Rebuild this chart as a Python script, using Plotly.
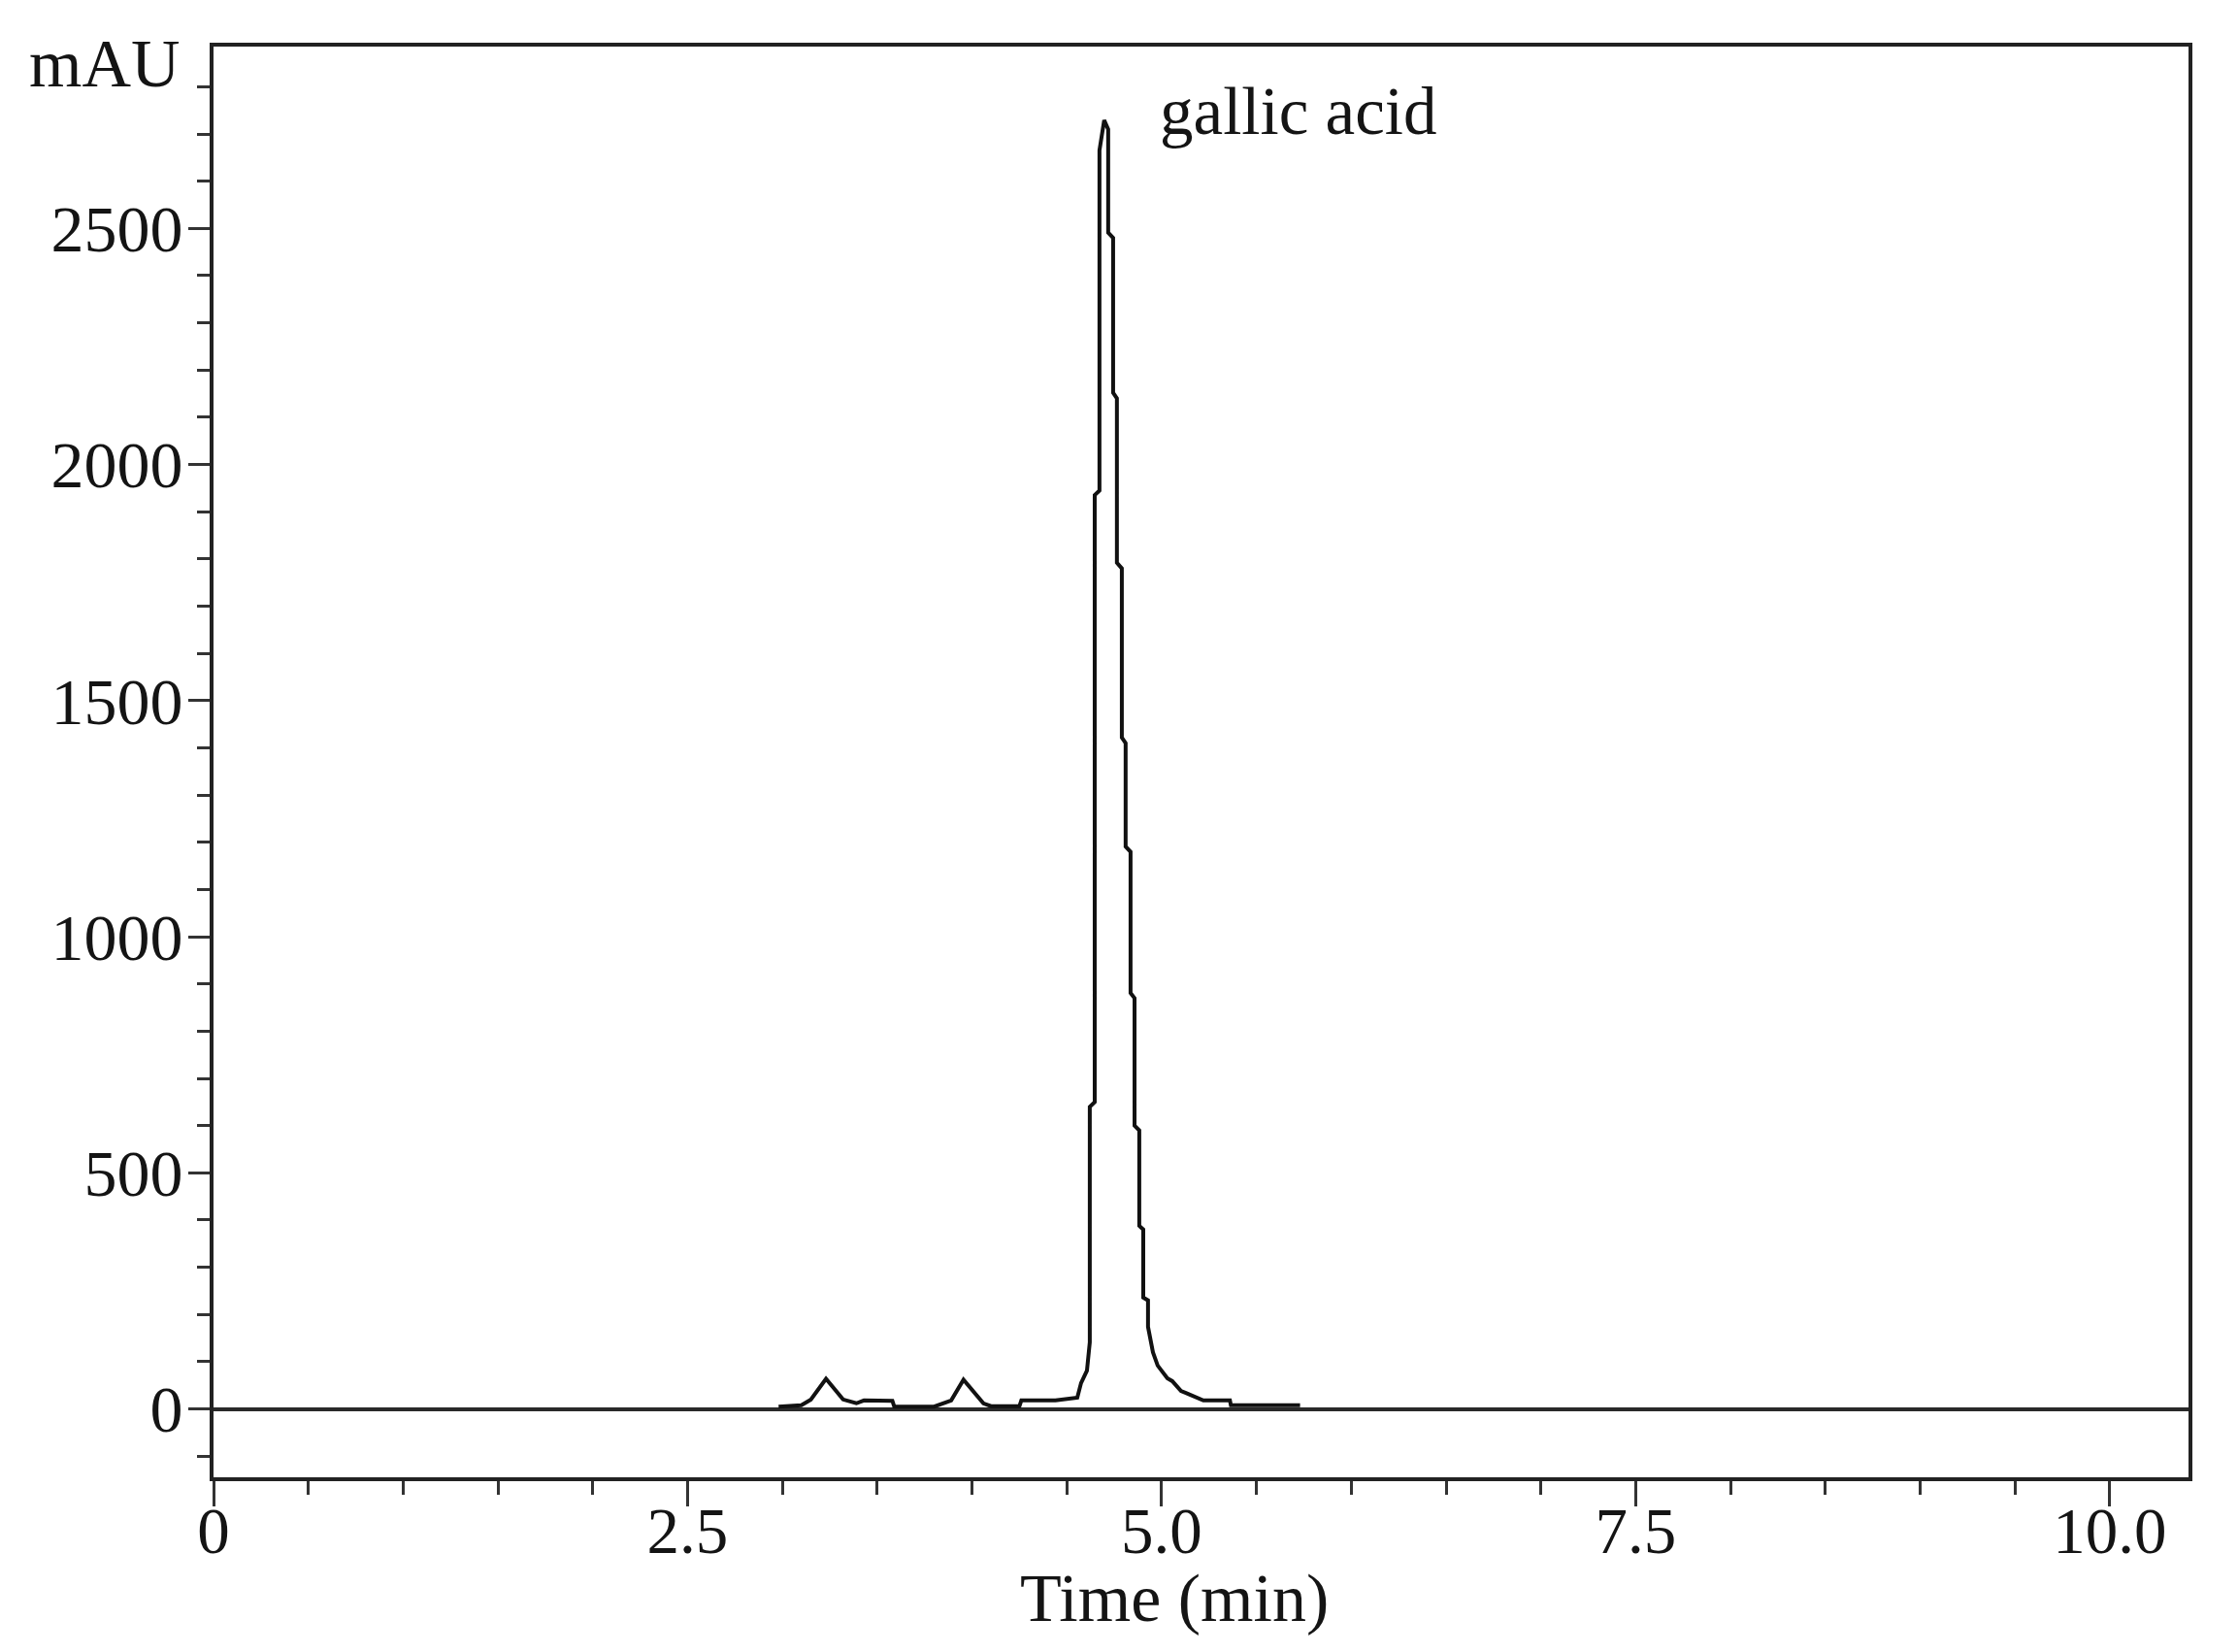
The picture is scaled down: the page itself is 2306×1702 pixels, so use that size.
import plotly.graph_objects as go

# Chromatogram trace (time in min, absorbance in mAU)
time_min = [2.98, 3.10, 3.15, 3.23, 3.32, 3.39, 3.43, 3.58, 3.59, 3.80, 3.89, 3.955,
            4.06, 4.10, 4.25, 4.26, 4.44, 4.54, 4.555, 4.575, 4.606, 4.621, 4.621,
            4.647, 4.647, 4.672, 4.672, 4.697, 4.718, 4.718, 4.744, 4.744, 4.764,
            4.764, 4.790, 4.790, 4.810, 4.810, 4.836, 4.836, 4.857, 4.857, 4.882,
            4.882, 4.903, 4.903, 4.928, 4.928, 4.954, 4.979, 5.03, 5.056, 5.102,
            5.128, 5.184, 5.22, 5.36, 5.365, 5.73]
mau = [5, 8, 20, 64, 20, 12, 18, 17, 5, 5, 18, 62,
       12, 6, 6, 18, 18, 22, 24, 55, 81, 141, 640,
       650, 1935, 1945, 2665, 2729, 2710, 2491, 2480, 2152, 2140,
       1792, 1780, 1422, 1410, 1191, 1180, 881, 870, 600, 590,
       388, 380, 236, 230, 174, 120, 92, 65, 59, 38,
       34, 24, 18, 18, 8, 8]

x_tickvals = [0, 2.5, 5.0, 7.5, 10.0]
x_ticktext = ["0", "2.5", "5.0", "7.5", "10.0"]
y_tickvals = [0, 500, 1000, 1500, 2000, 2500]
y_ticktext = ["0", "500", "1000", "1500", "2000", "2500"]

peak_label = "gallic acid"
peak_label_pos = [4.979, 2748]

FONT = "Liberation Serif, Times New Roman, serif"
INK = "#141414"

fig = go.Figure()
fig.add_trace(go.Scatter(x=time_min, y=mau, mode="lines",
                         line=dict(color="#111111", width=4), showlegend=False,
                         hoverinfo="skip"))

fig.update_layout(
    width=2298, height=1694,
    margin=dict(l=212, r=51, t=40, b=180),
    paper_bgcolor="white", plot_bgcolor="white",
    font=dict(family=FONT, size=68, color=INK),
    showlegend=False,
)

fig.update_xaxes(
    range=[0, 10.415],
    tickvals=x_tickvals, ticktext=x_ticktext,
    ticks="outside", ticklen=26, tickwidth=3, tickcolor="#333",
    minor=dict(dtick=0.5, ticks="outside", ticklen=14, tickwidth=3, tickcolor="#333", showgrid=False),
    showline=True, linecolor="#222", linewidth=4, mirror=True,
    showgrid=False, zeroline=False,
    ticklabelstandoff=-32,
    tickfont=dict(family=FONT, size=67, color=INK),
)
fig.update_yaxes(
    range=[-144.7, 2885],
    tickvals=y_tickvals, ticktext=y_ticktext,
    ticks="outside", ticklen=22, tickwidth=3, tickcolor="#333",
    minor=dict(dtick=100, ticks="outside", ticklen=13, tickwidth=3, tickcolor="#333", showgrid=False),
    showline=True, linecolor="#222", linewidth=4, mirror=True,
    showgrid=False, zeroline=True, zerolinecolor="#2a2a2a", zerolinewidth=4,
    ticklabelstandoff=-8,
    tickfont=dict(family=FONT, size=68, color=INK),
)

fig.add_annotation(x=peak_label_pos[0], y=peak_label_pos[1], xref="x", yref="y",
                   text=peak_label, showarrow=False, xanchor="left", yanchor="middle",
                   font=dict(family=FONT, size=69, color=INK))
fig.add_annotation(x=-0.055, y=0.988, xref="paper", yref="paper",
                   text="mAU", showarrow=False, xanchor="center", yanchor="middle",
                   font=dict(family=FONT, size=70, color=INK))
fig.add_annotation(x=0.4865, y=-0.0845, xref="paper", yref="paper",
                   text="Time (min)", showarrow=False, xanchor="center", yanchor="middle",
                   font=dict(family=FONT, size=70, color=INK))

fig.write_html("out.html")
